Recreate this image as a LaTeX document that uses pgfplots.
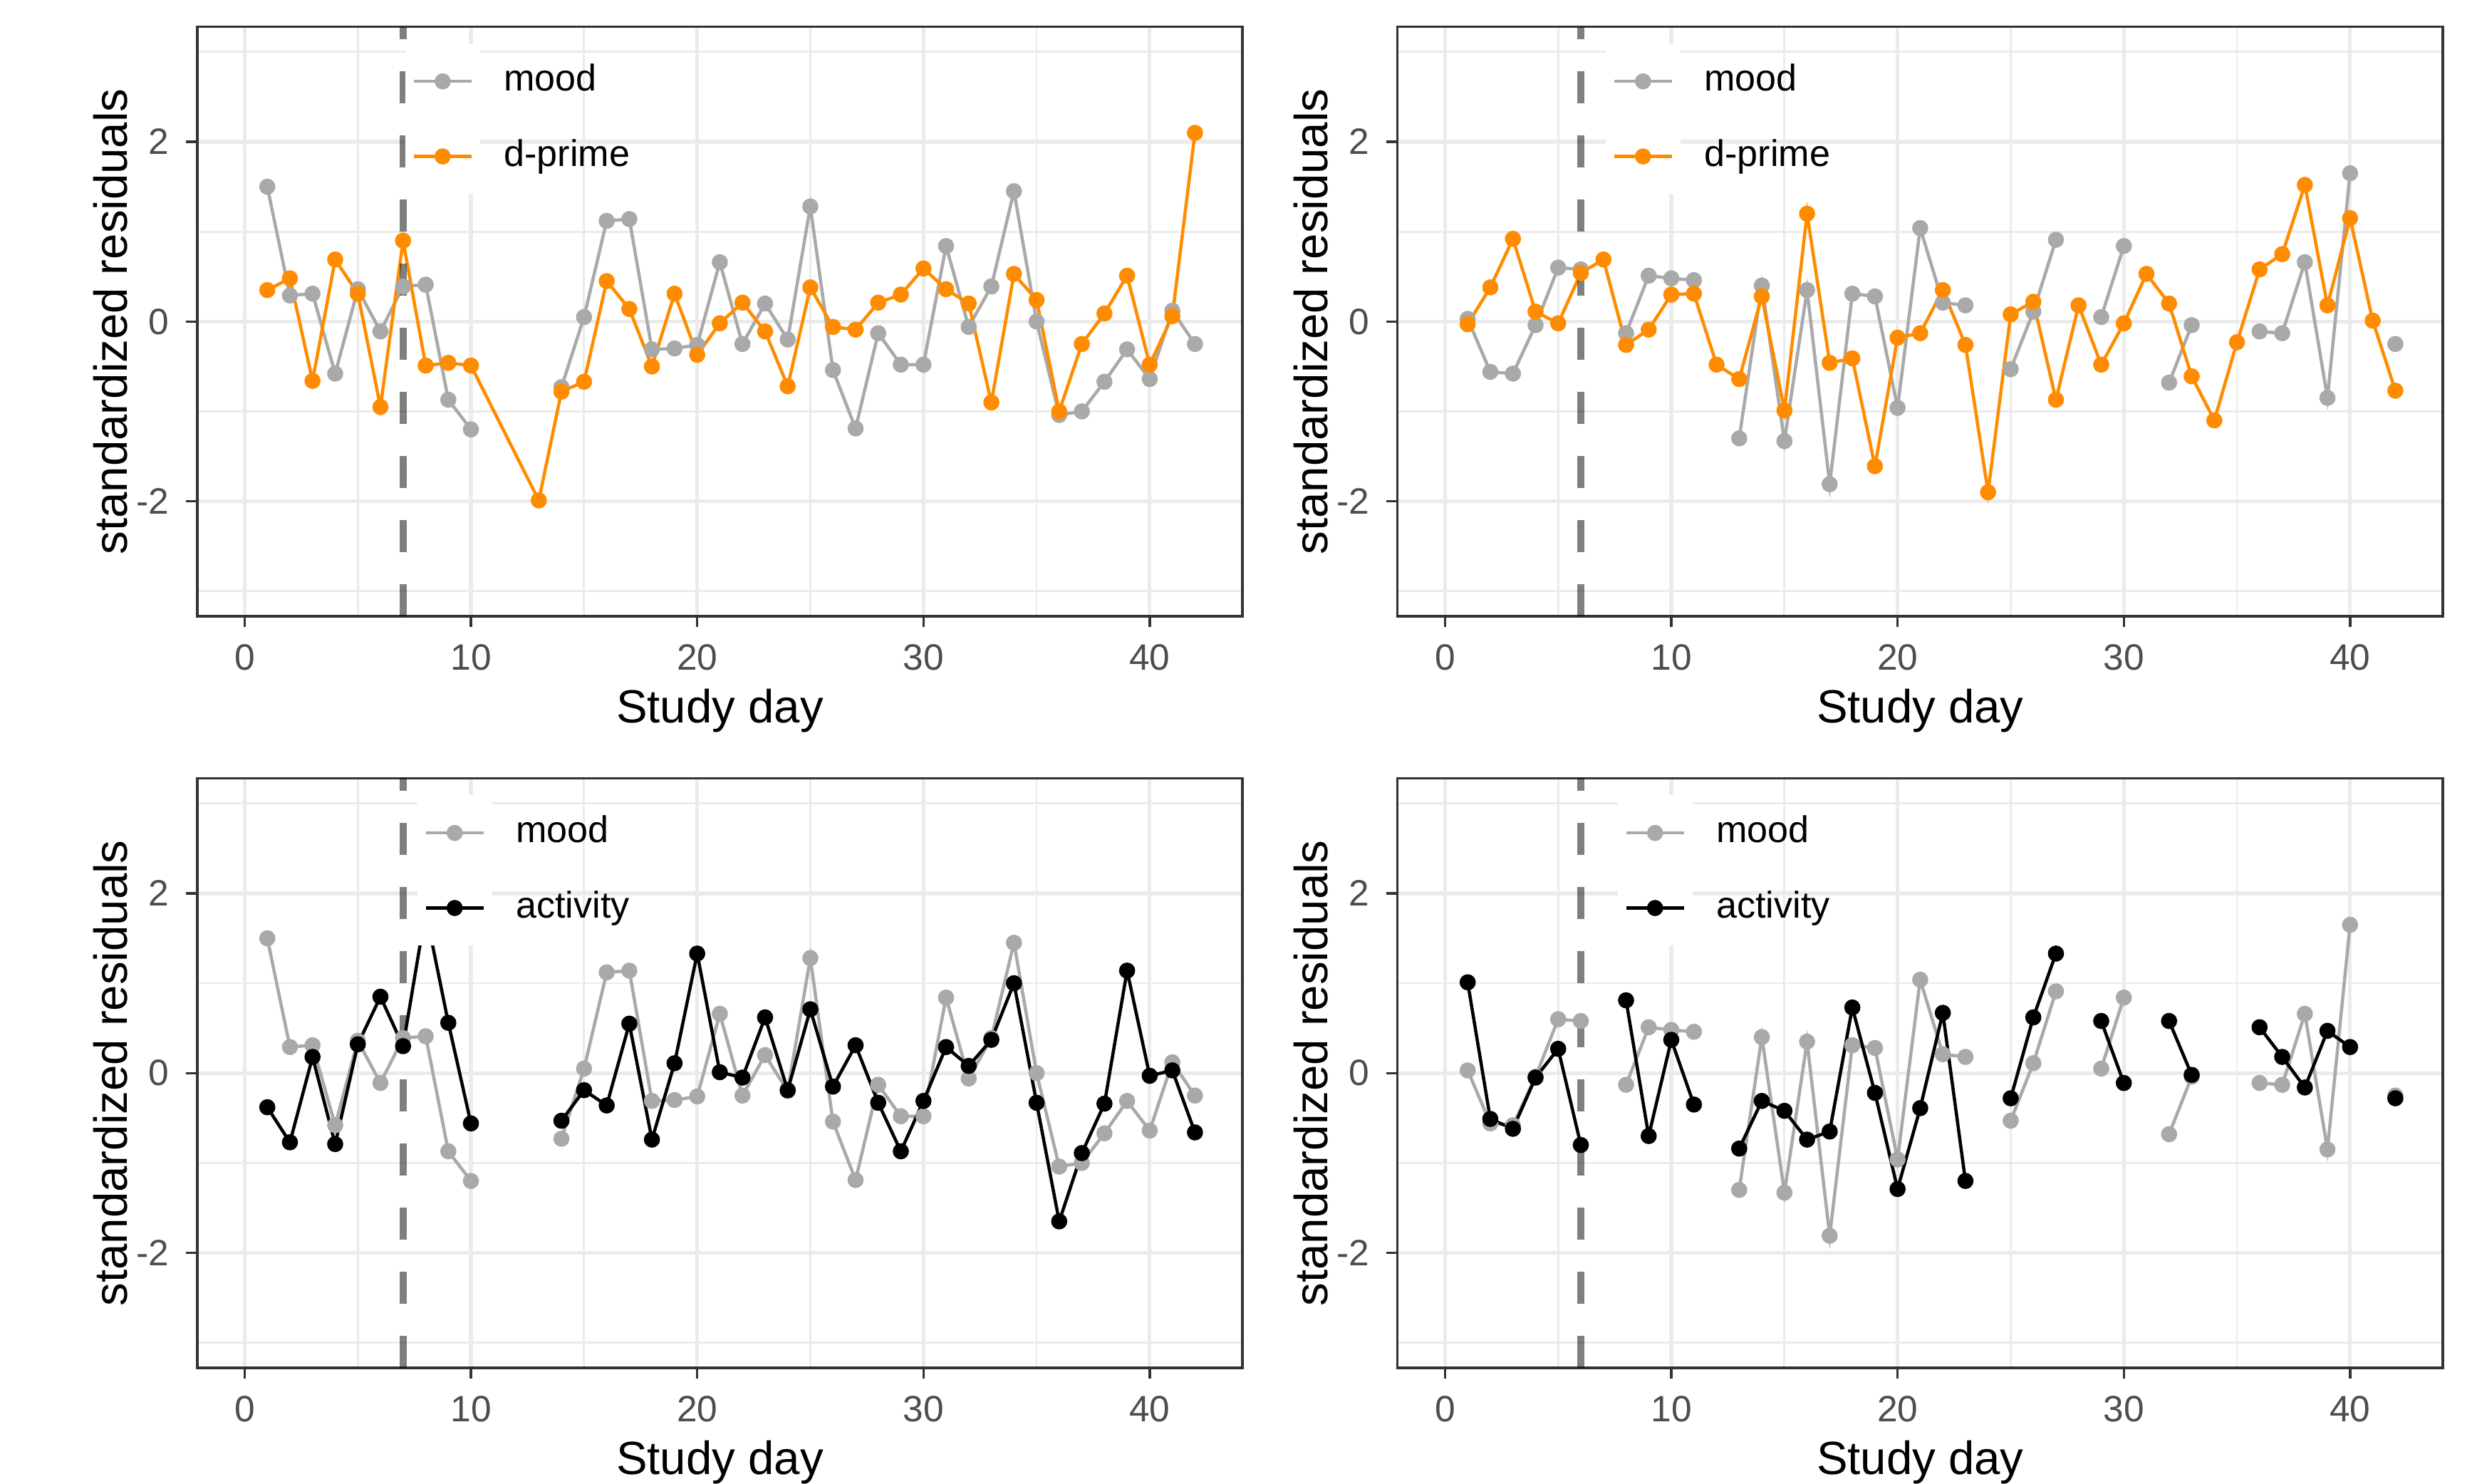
\documentclass[border=0pt]{standalone}
\usepackage{fontspec}
\setmainfont{Liberation Sans}
\usepackage{pgfplots}
\pgfplotsset{compat=1.18}
\definecolor{moodgray}{HTML}{A9A9A9}
\definecolor{dorange}{HTML}{FF8C00}
\definecolor{gridgray}{HTML}{EBEBEB}
\definecolor{tickgray}{HTML}{4D4D4D}
\definecolor{bordergray}{HTML}{333333}
\pgfplotsset{
 panel/.style={
  scale only axis, width=211pt, height=119pt,
  xmin=-2.1, xmax=44.1, ymin=-3.28, ymax=3.28,
  xtick={0,10,20,30,40}, xticklabels={0,10,20,30,40},
  ytick={-2,0,2}, yticklabels={-2,0,2},
  minor xtick={5,15,25,35}, minor ytick={-3,-1,1,3},
  grid=both,
  major grid style={gridgray, line width=0.75pt},
  minor grid style={gridgray, line width=0.4pt},
  tick align=outside, major tick length=2.2pt, minor tick length=0pt,
  xtick pos=bottom, ytick pos=left,
  tick style={bordergray, line width=0.5pt},
  axis line style={bordergray, line width=0.5pt},
  ticklabel style={font=\fontsize{7.4}{9}\selectfont, text=tickgray},
  xlabel={Study day}, ylabel={standardized residuals},
  label style={font=\fontsize{9.4}{11}\selectfont},
  xlabel style={at={(axis description cs:0.5,-0.160)}, anchor=center},
  ylabel style={at={(axis description cs:-0.083,0.5)}, anchor=center},
  unbounded coords=jump,
  legend cell align=left,
  legend style={draw=none, fill=none, anchor=north west, inner sep=0pt, outer sep=0pt, row sep=0pt, column sep=4.8pt, font=\fontsize{7.5}{9}\selectfont, nodes={inner sep=0pt}},
  legend image code/.code={
    \fill[white] (-1.44pt,-7.25pt) rectangle (13.04pt,7.25pt);
    \draw[mark repeat=2,mark phase=2,#1] plot coordinates {(0pt,0pt) (5.8pt,0pt) (11.6pt,0pt)};
  },
  every axis plot/.append style={line width=0.65pt, mark=*, mark size=1.3pt, mark options={solid}},
 },
 vline/.style={black, opacity=0.5, line width=1.5pt, dash pattern=on 6.47pt off 6.47pt, mark=none, forget plot},
}
\begin{document}
\begin{tikzpicture}
\useasboundingbox (0,0) rectangle (500pt,299.4pt);
% ---------------- top left ----------------
\begin{axis}[panel, at={(39.8pt,175pt)}, anchor=south west,
  legend style={at={(axis description cs:0.199,0.971)}}]
\addplot[moodgray] table {
x y
1 1.50
2 0.29
3 0.31
4 -0.58
5 0.36
6 -0.11
7 0.39
8 0.41
9 -0.87
10 -1.20
11 nan
12 nan
13 nan
14 -0.73
15 0.05
16 1.12
17 1.14
18 -0.31
19 -0.30
20 -0.26
21 0.66
22 -0.25
23 0.20
24 -0.20
25 1.28
26 -0.54
27 -1.19
28 -0.13
29 -0.48
30 -0.48
31 0.84
32 -0.06
33 0.39
34 1.45
35 0.00
36 -1.04
37 -1.00
38 -0.67
39 -0.31
40 -0.64
41 0.12
42 -0.25
};
\addlegendentry{mood}
\addplot[dorange] table {
x y
1 0.35
2 0.48
3 -0.66
4 0.69
5 0.31
6 -0.95
7 0.90
8 -0.49
9 -0.46
10 -0.49
13 -1.99
14 -0.78
15 -0.67
16 0.45
17 0.14
18 -0.50
19 0.31
20 -0.37
21 -0.02
22 0.21
23 -0.11
24 -0.72
25 0.38
26 -0.06
27 -0.09
28 0.21
29 0.30
30 0.59
31 0.36
32 0.20
33 -0.90
34 0.53
35 0.24
36 -1.00
37 -0.25
38 0.09
39 0.51
40 -0.48
41 0.06
42 2.10
};
\addlegendentry{d-prime}
\addplot[vline] coordinates {(7,-3.28) (7,3.28)};
\end{axis}
% ---------------- top right ----------------
\begin{axis}[panel, at={(282.1pt,175pt)}, anchor=south west,
  legend style={at={(axis description cs:0.199,0.971)}}]
\addplot[moodgray] table {
x y
1 0.03
2 -0.56
3 -0.58
4 -0.04
5 0.60
6 0.58
7 nan
8 -0.13
9 0.51
10 0.48
11 0.46
12 nan
13 -1.30
14 0.40
15 -1.33
16 0.35
17 -1.81
18 0.31
19 0.28
20 -0.96
21 1.04
22 0.21
23 0.18
24 nan
25 -0.53
26 0.11
27 0.91
28 nan
29 0.05
30 0.84
31 nan
32 -0.68
33 -0.04
34 nan
35 nan
36 -0.11
37 -0.13
38 0.66
39 -0.85
40 1.65
41 nan
42 -0.25
};
\addlegendentry{mood}
\addplot[dorange] table {
x y
1 -0.03
2 0.38
3 0.92
4 0.11
5 -0.02
6 0.54
7 0.69
8 -0.26
9 -0.09
10 0.30
11 0.31
12 -0.48
13 -0.64
14 0.28
15 -0.99
16 1.20
17 -0.46
18 -0.41
19 -1.61
20 -0.18
21 -0.13
22 0.35
23 -0.26
24 -1.90
25 0.08
26 0.22
27 -0.87
28 0.18
29 -0.48
30 -0.02
31 0.53
32 0.20
33 -0.61
34 -1.10
35 -0.23
36 0.58
37 0.75
38 1.52
39 0.18
40 1.15
41 0.01
42 -0.77
};
\addlegendentry{d-prime}
\addplot[vline] coordinates {(6,-3.28) (6,3.28)};
\end{axis}
% ---------------- bottom left ----------------
\begin{axis}[panel, at={(39.8pt,23.3pt)}, anchor=south west,
  legend style={at={(axis description cs:0.2105,0.971)}}]
\addplot[moodgray] table {
x y
1 1.50
2 0.29
3 0.31
4 -0.58
5 0.36
6 -0.11
7 0.39
8 0.41
9 -0.87
10 -1.20
11 nan
12 nan
13 nan
14 -0.73
15 0.05
16 1.12
17 1.14
18 -0.31
19 -0.30
20 -0.26
21 0.66
22 -0.25
23 0.20
24 -0.20
25 1.28
26 -0.54
27 -1.19
28 -0.13
29 -0.48
30 -0.48
31 0.84
32 -0.06
33 0.39
34 1.45
35 0.00
36 -1.04
37 -1.00
38 -0.67
39 -0.31
40 -0.64
41 0.12
42 -0.25
};
\addlegendentry{mood}
\addplot[black] table {
x y
1 -0.38
2 -0.77
3 0.18
4 -0.79
5 0.32
6 0.85
7 0.30
8 1.80
9 0.56
10 -0.56
11 nan
12 nan
13 nan
14 -0.53
15 -0.19
16 -0.36
17 0.55
18 -0.74
19 0.11
20 1.33
21 0.01
22 -0.05
23 0.62
24 -0.19
25 0.71
26 -0.15
27 0.31
28 -0.33
29 -0.87
30 -0.31
31 0.29
32 0.08
33 0.37
34 1.00
35 -0.33
36 -1.65
37 -0.89
38 -0.34
39 1.14
40 -0.03
41 0.03
42 -0.66
};
\addlegendentry{activity}
\addplot[vline] coordinates {(7,-3.28) (7,3.28)};
\end{axis}
% ---------------- bottom right ----------------
\begin{axis}[panel, at={(282.1pt,23.3pt)}, anchor=south west,
  legend style={at={(axis description cs:0.2105,0.971)}}]
\addplot[moodgray] table {
x y
1 0.03
2 -0.56
3 -0.58
4 -0.04
5 0.60
6 0.58
7 nan
8 -0.13
9 0.51
10 0.48
11 0.46
12 nan
13 -1.30
14 0.40
15 -1.33
16 0.35
17 -1.81
18 0.31
19 0.28
20 -0.96
21 1.04
22 0.21
23 0.18
24 nan
25 -0.53
26 0.11
27 0.91
28 nan
29 0.05
30 0.84
31 nan
32 -0.68
33 -0.04
34 nan
35 nan
36 -0.11
37 -0.13
38 0.66
39 -0.85
40 1.65
41 nan
42 -0.25
};
\addlegendentry{mood}
\addplot[black] table {
x y
1 1.01
2 -0.51
3 -0.62
4 -0.05
5 0.27
6 -0.80
7 nan
8 0.81
9 -0.70
10 0.37
11 -0.35
12 nan
13 -0.84
14 -0.31
15 -0.42
16 -0.74
17 -0.65
18 0.73
19 -0.22
20 -1.29
21 -0.39
22 0.67
23 -1.20
24 nan
25 -0.28
26 0.62
27 1.33
28 nan
29 0.58
30 -0.11
31 nan
32 0.58
33 -0.02
34 nan
35 nan
36 0.51
37 0.18
38 -0.16
39 0.47
40 0.29
41 nan
42 -0.28
};
\addlegendentry{activity}
\addplot[vline] coordinates {(6,-3.28) (6,3.28)};
\end{axis}
\end{tikzpicture}
\end{document}
